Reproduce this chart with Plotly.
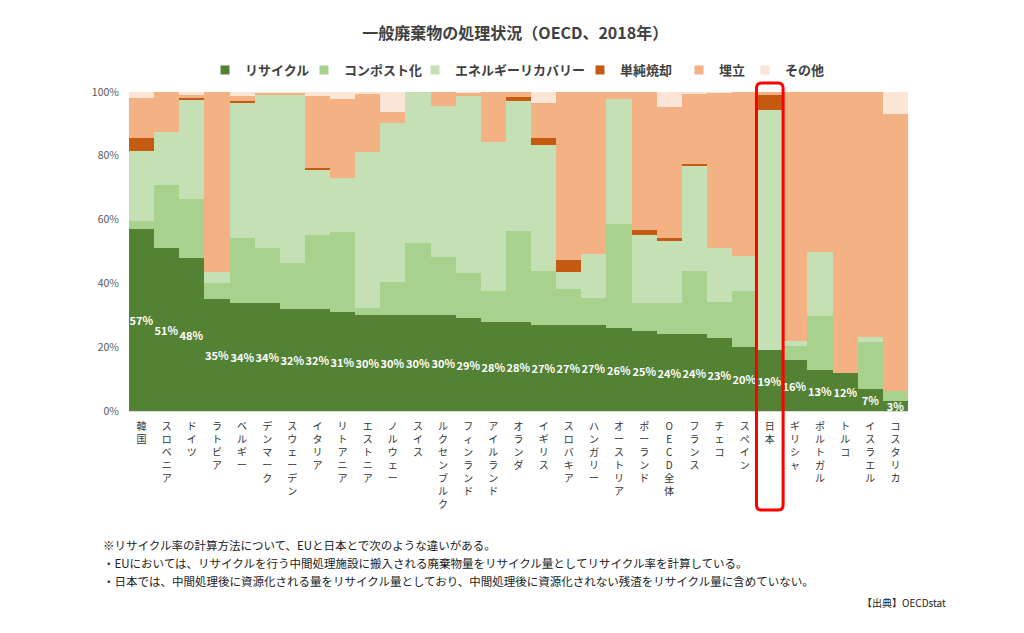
import plotly.graph_objects as go

categories = ["韓国", "スロベニア", "ドイツ", "ラトビア", "ベルギー", "デンマーク", "スウェーデン",
              "イタリア", "リトアニア", "エストニア", "ノルウェー", "スイス", "ルクセンブルク",
              "フィンランド", "アイルランド", "オランダ", "イギリス", "スロバキア", "ハンガリー",
              "オーストリア", "ポーランド", "OECD全体", "フランス", "チェコ", "スペイン", "日本",
              "ギリシャ", "ポルトガル", "トルコ", "イスラエル", "コスタリカ"]

recycle = [57, 51, 48, 35, 34, 34, 32, 32, 31, 30, 30, 30, 30, 29, 28, 28, 27, 27, 27, 26,
           25, 24, 24, 23, 20, 19, 16, 13, 12, 7, 3]
compost = [2.5, 20, 18.5, 5, 20.3, 17.2, 14.3, 23.2, 25.2, 2.4, 10.5, 22.6, 18.4, 14.2, 9.6,
           28.5, 16.9, 11.1, 8.3, 32.6, 8.8, 10.0, 20.0, 11.3, 17.6, 0, 4.5, 16.9, 0, 14.5, 3.3]
energy = [22, 16.5, 31.3, 3.5, 42.4, 47.8, 52.8, 20.3, 16.7, 48.9, 49.9, 47.4, 47.2, 55.7, 46.8,
          40.8, 39.5, 5.6, 13.9, 39.2, 21.4, 19.4, 32.9, 16.7, 11.1, 75.3, 1.4, 20.1, 0, 1.6, 0]
incineration = [4, 0, 0.4, 0, 0.6, 0, 0, 0.7, 0, 0, 0, 0, 0, 0, 0, 1.0, 2.1, 3.6, 0, 0,
                1.5, 0.8, 0.5, 0, 0, 4.7, 0, 0, 0, 0, 0]
landfill = [12.5, 12.5, 0.8, 56.5, 1.3, 0.7, 0.7, 22.6, 24.8, 18.1, 3.4, 0, 4.4, 0.8, 15.6,
            1.7, 11.2, 52.7, 50.8, 2.2, 43.3, 41.0, 22.0, 48.8, 51.3, 1.0, 78.1, 50.0, 88, 76.9, 86.8]
other = [2, 0, 1, 0, 1.4, 0.3, 0.2, 1.2, 2.3, 0.6, 6.2, 0, 0, 0.3, 0, 0, 3.3, 0, 0, 0,
         0, 4.8, 0.6, 0.2, 0, 0, 0, 0, 0, 0, 6.9]

series_names = ["リサイクル", "コンポスト化", "エネルギーリカバリー", "単純焼却", "埋立", "その他"]
series_values = [recycle, compost, energy, incineration, landfill, other]
series_colors = ["#548235", "#A9D18E", "#C5E0B4", "#C55A11", "#F4B183", "#FBE5D6"]

recycle_labels = [f"{v:.0f}%" for v in recycle]
tick_labels = ["<br>".join(list(c)) for c in categories]

FONT = "Noto Sans CJK JP"

# page body has an 8px margin; all reference pixel positions are shifted by it
OFF = 8
W, H = 1024 - 2 * OFF, 633 - 2 * OFF
PL, PR, PT, PB = 129, 908, 92, 411          # plot area in reference pixels
L, R, T, B = PL - OFF, W - (PR - OFF), PT - OFF, H - (PB - OFF)
pw, ph = PR - PL, PB - PT

def px_x(x):
    return (x - PL) / pw

def px_y(y):
    return (PB - y) / ph

# legend text starts (reference pixels)
legend_text_x = [243, 342, 453, 618, 717, 783]

fig = go.Figure()
for i, (name, vals, col) in enumerate(zip(series_names, series_values, series_colors)):
    kw = {}
    if name == "リサイクル":
        kw = dict(text=recycle_labels, textposition="inside", insidetextanchor="middle", textangle=0,
                  textfont=dict(color="white", size=11, family=FONT, weight="bold"))
    fig.add_trace(go.Bar(x=categories, y=vals, name=name, marker=dict(color=col, line=dict(width=0)),
                         hoverinfo="skip", showlegend=False, **kw))
    lg = "legend" if i == 0 else f"legend{i+1}"
    fig.add_trace(go.Scatter(x=[None], y=[None], mode="markers", name=name, legend=lg,
                             marker=dict(symbol="square", size=9, color=col), hoverinfo="skip"))

layout_legends = {}
for i, tx in enumerate(legend_text_x):
    lg = "legend" if i == 0 else f"legend{i+1}"
    layout_legends[lg] = dict(orientation="h", x=px_x(tx - 38), xanchor="left", y=px_y(70),
                              yanchor="middle", itemwidth=30, bgcolor="rgba(0,0,0,0)",
                              font=dict(size=13, color="#404040", family=FONT, weight="bold"))

fig.update_layout(
    width=W, height=H,
    margin=dict(l=L, r=R, t=T, b=B),
    barmode="stack", bargap=0,
    plot_bgcolor="white", paper_bgcolor="white",
    font=dict(family=FONT, color="#404040"),
    title=dict(text="<b>一般廃棄物の処理状況（OECD、2018年）</b>", x=px_x(521), xanchor="center",
               y=1 - (33 - OFF) / H, yanchor="middle", font=dict(size=16, color="#404040", family=FONT)),
    uniformtext=dict(minsize=11, mode="show"),
    xaxis=dict(tickmode="array", tickvals=categories, ticktext=tick_labels, tickangle=0,
               tickfont=dict(size=10, color="#333333", family=FONT), showline=True,
               linecolor="#d9d9d9", ticks="", showgrid=False, ticklabelstandoff=6),
    yaxis=dict(range=[0, 100], dtick=20, ticksuffix="%", showgrid=False, zeroline=False,
               tickfont=dict(size=10.5, color="#595959", family=FONT), ticks="",
               ticklabelstandoff=9),
    **layout_legends,
)

# Highlight box around 日本
j = categories.index("日本")
x0, x1 = j - 0.53, j + 0.53
y0, y1 = px_y(510), px_y(83)
rx, ry = 0.2, 5 / ph
path = (f"M {x0+rx},{y0} L {x1-rx},{y0} Q {x1},{y0} {x1},{y0+ry} L {x1},{y1-ry} "
        f"Q {x1},{y1} {x1-rx},{y1} L {x0+rx},{y1} Q {x0},{y1} {x0},{y1-ry} "
        f"L {x0},{y0+ry} Q {x0},{y0} {x0+rx},{y0} Z")
fig.add_shape(type="path", path=path, xref="x", yref="paper", line=dict(color="#FF0000", width=3),
              fillcolor="rgba(0,0,0,0)", layer="above")

notes = ["※リサイクル率の計算方法について、EUと日本とで次のような違いがある。",
         "・EUにおいては、リサイクルを行う中間処理施設に搬入される廃棄物量をリサイクル量としてリサイクル率を計算している。",
         "・日本では、中間処理後に資源化される量をリサイクル量としており、中間処理後に資源化されない残渣をリサイクル量に含めていない。"]
note_y = [545, 563, 581]
for t, yy in zip(notes, note_y):
    fig.add_annotation(text=t, xref="paper", yref="paper", x=px_x(101), y=px_y(yy),
                       xanchor="left", yanchor="middle", showarrow=False,
                       font=dict(size=11.5, color="#222222", family=FONT))
fig.add_annotation(text="【出典】OECDstat", xref="paper", yref="paper", x=px_x(948), y=px_y(602),
                   xanchor="right", yanchor="middle", showarrow=False,
                   font=dict(size=10, color="#222222", family=FONT))

fig.write_html("out.html")
